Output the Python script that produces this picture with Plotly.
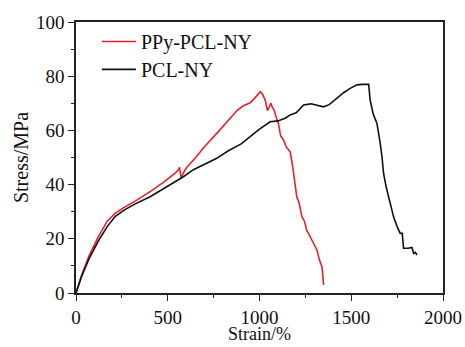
import plotly.graph_objects as go

# PPy-PCL-NY (red)
ppy_strain = [0, 30, 70, 120, 170, 213, 260, 320, 404, 480, 540, 558, 564, 571, 573, 590, 604, 650, 700, 767, 830, 880, 910, 949, 975, 1004, 1015, 1031, 1043, 1055, 1062, 1070, 1080, 1090, 1103, 1115, 1131, 1145, 1160, 1167, 1180, 1189, 1203, 1215, 1231, 1245, 1258, 1267, 1285, 1300, 1313, 1325, 1340, 1345, 1349]
ppy_stress = [0, 6.5, 13.5, 20.5, 26.5, 29.4, 31.5, 33.8, 37.4, 41.0, 44.2, 45.5, 46.4, 43.5, 42.5, 45.0, 46.4, 49.8, 54.0, 58.9, 63.5, 67.5, 69.0, 70.2, 72.0, 74.3, 73.5, 71.2, 67.3, 69.5, 70.0, 68.5, 67.5, 65.0, 62.6, 58.0, 56.5, 54.0, 52.5, 52.1, 47.0, 42.9, 35.5, 33.5, 28.2, 26.5, 23.0, 22.0, 19.5, 17.5, 15.9, 12.5, 9.7, 6.5, 3.0]

# PCL-NY (black)
pcl_strain = [0, 30, 70, 120, 170, 213, 260, 320, 404, 480, 540, 585, 640, 700, 767, 830, 900, 949, 1000, 1058, 1100, 1140, 1167, 1200, 1240, 1280, 1320, 1349, 1380, 1422, 1460, 1494, 1531, 1558, 1585, 1595, 1603, 1620, 1640, 1650, 1658, 1668, 1676, 1690, 1704, 1718, 1731, 1750, 1767, 1778, 1785, 1810, 1831, 1840, 1850, 1858]
pcl_stress = [0, 6.0, 12.5, 19.0, 24.5, 28.2, 30.5, 32.8, 35.5, 38.5, 41.0, 42.9, 45.5, 47.5, 49.7, 52.5, 55.0, 57.7, 60.5, 63.2, 63.5, 64.5, 65.7, 66.5, 69.4, 69.8, 69.0, 68.7, 69.5, 71.8, 74.0, 75.5, 76.8, 77.0, 76.8, 77.0, 71.2, 66.0, 62.6, 58.9, 55.2, 50.0, 44.2, 39.2, 35.0, 31.8, 28.0, 24.5, 22.0, 22.0, 16.5, 16.5, 16.8, 14.6, 15.0, 14.0]

x_ticks = [0, 500, 1000, 1500, 2000]
y_ticks = [0, 20, 40, 60, 80, 100]
x_title = "Strain/%"
y_title = "Stress/MPa"

font_family = "'Times New Roman', 'Liberation Serif', 'DejaVu Serif', serif"

fig = go.Figure()
fig.add_trace(go.Scatter(x=ppy_strain, y=ppy_stress, mode="lines", name="PPy-PCL-NY",
                         line=dict(color="#e8202a", width=1.6), legend="legend"))
fig.add_trace(go.Scatter(x=pcl_strain, y=pcl_stress, mode="lines", name="PCL-NY",
                         line=dict(color="#111111", width=1.6), legend="legend2"))

axis_common = dict(
    showline=True, linecolor="#222", linewidth=1.5, mirror=True,
    ticks="outside", ticklen=6, tickwidth=1.3, tickcolor="#222",
    showgrid=False, zeroline=False, automargin=False,
    tickfont=dict(family=font_family, size=19, color="#111"),
)

fig.update_xaxes(range=[0, 2000], tickvals=x_ticks,
                 minor=dict(ticks="outside", ticklen=3, tickwidth=1.2, tickcolor="#222", dtick=250),
                 **axis_common)
fig.update_yaxes(range=[0, 100], tickvals=y_ticks,
                 minor=dict(ticks="outside", ticklen=3, tickwidth=1.2, tickcolor="#222", dtick=10),
                 title=dict(text=y_title, font=dict(family=font_family, size=20, color="#111"), standoff=2),
                 **axis_common)

fig.add_annotation(text=x_title, xref="paper", yref="paper", x=0.5, y=-0.196,
                   xanchor="center", yanchor="bottom", showarrow=False,
                   font=dict(family=font_family, size=18, color="#111"))

legend_style = dict(xanchor="left", yanchor="top", bgcolor="rgba(0,0,0,0)",
                    font=dict(family=font_family, size=20, color="#111"), itemwidth=34)

fig.update_layout(
    width=465, height=347,
    margin=dict(l=76, r=22, t=22, b=54),
    paper_bgcolor="white", plot_bgcolor="white",
    font=dict(family=font_family),
    showlegend=True,
    legend=dict(x=0.057, y=1.0, **legend_style),
    legend2=dict(x=0.057, y=0.897, **legend_style),
)

fig.write_html("out.html")
